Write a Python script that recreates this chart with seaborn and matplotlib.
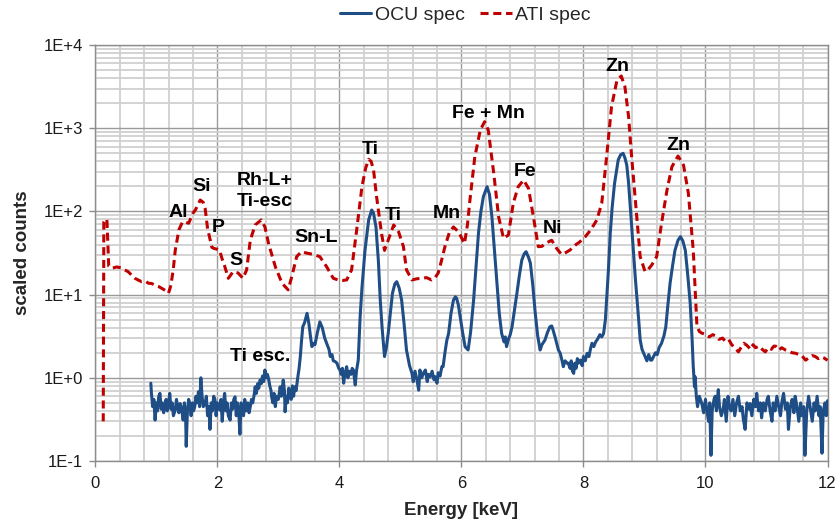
import numpy as np
import pandas as pd
import matplotlib
matplotlib.use("Agg")
import matplotlib.pyplot as plt
import matplotlib.ticker as mticker
import seaborn as sns

# ---------------- data ----------------
ati_energy = [0.13, 0.14, 0.16, 0.19, 0.22, 0.27, 0.35, 0.42, 0.50, 0.54, 0.60, 0.65, 0.70, 0.76,
              0.82, 0.87, 0.92, 0.98, 1.03, 1.09, 1.15, 1.20, 1.24, 1.28, 1.31, 1.37, 1.43, 1.48,
              1.53, 1.60, 1.64, 1.72, 1.77, 1.80, 1.84, 1.87, 1.91, 1.94, 2.00, 2.04, 2.07, 2.12,
              2.18, 2.26, 2.34, 2.42, 2.48, 2.54, 2.62, 2.72, 2.78, 2.84, 2.95, 3.06, 3.16, 3.22,
              3.30, 3.38, 3.46, 3.57, 3.68, 3.79, 3.90, 3.98, 4.05, 4.12, 4.20, 4.29, 4.37, 4.43,
              4.48, 4.52, 4.56, 4.61, 4.69, 4.74, 4.80, 4.89, 4.97, 5.05, 5.10, 5.19, 5.27, 5.35,
              5.43, 5.51, 5.57, 5.62, 5.67, 5.73, 5.80, 5.87, 5.95, 5.98, 6.05, 6.10, 6.14, 6.22,
              6.31, 6.38, 6.44, 6.53, 6.61, 6.69, 6.77, 6.85, 6.93, 7.02, 7.10, 7.18, 7.26, 7.32,
              7.37, 7.48, 7.56, 7.64, 7.71, 7.78, 7.87, 7.94, 8.03, 8.12, 8.22, 8.30, 8.38, 8.46,
              8.55, 8.62, 8.68, 8.74, 8.79, 8.85, 8.93, 9.01, 9.06, 9.12, 9.20, 9.28, 9.37, 9.45,
              9.55, 9.64, 9.72, 9.80, 9.86, 9.90, 9.94, 10.00, 10.06, 10.12, 10.16, 10.22, 10.28,
              10.32, 10.38, 10.43, 10.48, 10.54, 10.58, 10.63, 10.68, 10.74, 10.78, 10.82, 10.88,
              10.93, 10.98, 11.03, 11.08, 11.12, 11.15, 11.20, 11.25, 11.31, 11.36, 11.42, 11.48,
              11.53, 11.58, 11.64, 11.70, 11.75, 11.80, 11.85, 11.90, 11.95, 12.00]
ati_counts = [0.30, 75, 80, 80, 22, 20.7, 21.5, 21, 19.5, 18.8, 17, 15.7, 15, 14.3,
              14.5, 13.7, 13.6, 13.0, 12.6, 11.9, 11.2, 10.4, 13, 20.8, 34, 60, 75, 74,
              72, 95, 104, 137, 128, 109, 62, 50, 37, 36, 35, 34, 28, 22,
              15.7, 18.9, 18.2, 15.7, 19.8, 45, 68.7, 79, 65, 41, 21.7, 13.7, 11.4, 16.4,
              28.6, 32.8, 31.6, 30.4, 28.6, 21.7, 15.7, 15, 14.8, 15, 19.8, 65, 198, 330,
              423, 400, 315, 150, 55, 34, 45, 68.7, 57, 37.7, 19.8, 15, 15.5, 15.7,
              16, 15, 16, 18.2, 25, 37.7, 55, 65, 57, 52, 41, 70, 137, 454,
              950, 1197, 950, 287, 86, 47.5, 52, 125, 198, 238, 189, 86, 37.7, 38,
              41, 45, 36, 30.4, 32, 34.3, 39.5, 43, 49.7, 60, 79, 125, 454, 1810,
              3790, 4240, 3150, 1374, 454, 137, 28.6, 18.9, 20, 22.7, 28.6, 72, 181, 344,
              463, 361, 165, 34, 4.2, 3.6, 3.44, 3.35, 3.1, 3.3, 3.2, 2.9, 3.0,
              2.77, 2.9, 2.5, 2.3, 2.05, 2.3, 2.6, 2.45, 2.2, 2.5, 2.3, 2.4,
              2.2, 2.05, 2.3, 2.2, 2.4, 2.4, 2.15, 2.3, 2.16, 2.1, 2.0, 1.97,
              1.9, 1.85, 1.63, 1.75, 1.85, 1.8, 1.7, 1.78, 1.72, 1.62]

ocu_energy = [0.91, 0.92, 0.94, 0.96, 0.98, 1.00, 1.02, 1.04, 1.06, 1.08, 1.10, 1.12, 1.14, 1.16,
              1.18, 1.20, 1.22, 1.24, 1.26, 1.28, 1.31, 1.33, 1.35, 1.37, 1.39, 1.41, 1.44, 1.46,
              1.48, 1.49, 1.51, 1.53, 1.55, 1.57, 1.59, 1.61, 1.63, 1.65, 1.67, 1.69, 1.71, 1.73,
              1.75, 1.77, 1.80, 1.82, 1.84, 1.86, 1.88, 1.90, 1.92, 1.94, 1.96, 1.98, 2.00, 2.02,
              2.04, 2.06, 2.08, 2.10, 2.12, 2.14, 2.16, 2.18, 2.21, 2.23, 2.25, 2.27, 2.29, 2.31,
              2.33, 2.35, 2.37, 2.39, 2.41, 2.43, 2.45, 2.47, 2.50, 2.52, 2.54, 2.56, 2.58, 2.60,
              2.62, 2.64, 2.66, 2.68, 2.70, 2.72, 2.74, 2.76, 2.78, 2.80, 2.82, 2.84, 2.86, 2.88,
              2.89, 2.91, 2.93, 2.95, 2.97, 3.00, 3.03, 3.05, 3.08, 3.10, 3.11, 3.13, 3.15, 3.17,
              3.19, 3.21, 3.23, 3.25, 3.27, 3.29, 3.32, 3.34, 3.36, 3.38, 3.40, 3.43, 3.47, 3.50,
              3.53, 3.55, 3.58, 3.60, 3.64, 3.68, 3.72, 3.76, 3.80, 3.83, 3.85, 3.88, 3.90, 3.93,
              3.96, 3.99, 4.01, 4.03, 4.05, 4.07, 4.09, 4.12, 4.14, 4.16, 4.19, 4.21, 4.23, 4.26,
              4.28, 4.31, 4.34, 4.37, 4.42, 4.48, 4.53, 4.56, 4.60, 4.64, 4.67, 4.70, 4.74, 4.77,
              4.80, 4.87, 4.91, 4.94, 4.98, 5.02, 5.06, 5.10, 5.15, 5.19, 5.21, 5.24, 5.27, 5.30,
              5.32, 5.35, 5.38, 5.41, 5.44, 5.46, 5.49, 5.52, 5.55, 5.57, 5.60, 5.62, 5.65, 5.68,
              5.70, 5.73, 5.76, 5.79, 5.83, 5.87, 5.90, 5.92, 5.95, 5.98, 6.02, 6.06, 6.11, 6.15,
              6.20, 6.24, 6.28, 6.32, 6.36, 6.42, 6.46, 6.50, 6.54, 6.58, 6.62, 6.66, 6.70, 6.72,
              6.74, 6.77, 6.80, 6.83, 6.87, 6.91, 6.95, 6.99, 7.03, 7.06, 7.10, 7.13, 7.17, 7.21,
              7.25, 7.29, 7.32, 7.35, 7.37, 7.41, 7.45, 7.48, 7.50, 7.54, 7.59, 7.62, 7.65, 7.67,
              7.70, 7.73, 7.75, 7.78, 7.80, 7.82, 7.84, 7.86, 7.88, 7.90, 7.92, 7.95, 7.98, 8.00,
              8.03, 8.06, 8.09, 8.12, 8.14, 8.17, 8.20, 8.23, 8.27, 8.30, 8.33, 8.36, 8.38, 8.41,
              8.44, 8.47, 8.51, 8.57, 8.61, 8.65, 8.68, 8.71, 8.74, 8.76, 8.79, 8.82, 8.85, 8.88,
              8.91, 8.93, 8.96, 9.01, 9.04, 9.07, 9.10, 9.12, 9.15, 9.18, 9.21, 9.24, 9.28, 9.32,
              9.35, 9.38, 9.42, 9.46, 9.50, 9.55, 9.59, 9.63, 9.67, 9.71, 9.75, 9.78, 9.80, 9.82,
              9.83, 9.85, 9.87, 9.90, 9.94, 9.97, 10.00, 10.02, 10.05, 10.07, 10.09, 10.11, 10.14,
              10.16, 10.18, 10.21, 10.23, 10.26, 10.29, 10.31, 10.34, 10.37, 10.39, 10.42, 10.45,
              10.48, 10.51, 10.54, 10.57, 10.60, 10.62, 10.65, 10.68, 10.71, 10.73, 10.76, 10.79,
              10.82, 10.84, 10.87, 10.90, 10.92, 10.95, 10.98, 11.01, 11.03, 11.06, 11.09, 11.11,
              11.14, 11.17, 11.20, 11.23, 11.25, 11.28, 11.31, 11.34, 11.36, 11.39, 11.42, 11.45,
              11.47, 11.50, 11.53, 11.56, 11.58, 11.61, 11.63, 11.66, 11.69, 11.72, 11.75, 11.78,
              11.80, 11.83, 11.86, 11.88, 11.91, 11.93, 11.96, 11.98, 12.00]
ocu_counts = [0.86, 0.65, 0.45, 0.55, 0.31, 0.5, 0.4, 0.6, 0.65, 0.42, 0.5, 0.38, 0.45, 0.55,
              0.4, 0.5, 0.65, 0.42, 0.5, 0.35, 0.41, 0.55, 0.45, 0.38, 0.49, 0.44, 0.31, 0.5,
              0.35, 0.15, 0.4, 0.55, 0.49, 0.35, 0.5, 0.4, 0.45, 0.6, 0.5, 0.68, 0.45, 1.0,
              0.6, 0.45, 0.49, 0.6, 0.35, 0.45, 0.24, 0.5, 0.4, 0.6, 0.55, 0.35, 0.5, 0.45,
              0.41, 0.55, 0.3, 0.5, 0.65, 0.4, 0.5, 0.35, 0.31, 0.5, 0.42, 0.55, 0.59, 0.35,
              0.5, 0.4, 0.21, 0.5, 0.45, 0.35, 0.55, 0.4, 0.5, 0.38, 0.45, 0.55, 0.5, 0.6,
              0.78, 0.65, 0.85, 0.75, 0.94, 0.85, 1.05, 0.9, 1.24, 1.0, 1.1, 0.97, 0.8, 0.7,
              0.59, 0.5, 0.65, 0.45, 0.6, 0.55, 0.78, 0.6, 0.94, 0.7, 0.39, 0.6, 0.5, 0.75,
              0.65, 0.55, 0.8, 0.6, 0.78, 0.7, 1.03, 1.3, 1.8, 2.8, 4.1, 4.6, 5.96, 4.5,
              3.0, 2.37, 2.6, 2.5, 3.5, 4.7, 4.0, 3.0, 2.5, 2.2, 1.8, 1.9, 1.6, 1.57,
              1.5, 1.3, 1.24, 1.1, 1.3, 0.86, 1.1, 1.36, 1.0, 1.2, 1.1, 1.3, 1.24, 0.82,
              1.2, 1.64, 5.4, 12, 34, 79, 104, 95, 65, 25, 8.6, 4.0, 1.8, 2.3,
              3.4, 10.4, 13.5, 14.3, 12, 8.6, 4.5, 2.16, 1.4, 1.13, 0.9, 1.2, 0.95, 0.71,
              1.24, 1.0, 1.15, 1.24, 0.9, 1.1, 1.03, 1.2, 0.95, 1.03, 0.86, 1.15, 1.05, 1.36,
              1.36, 2.0, 2.8, 3.4, 6.0, 8.6, 9.4, 9.1, 7.5, 5.4, 3.5, 2.37, 2.16, 3.5,
              8.6, 22, 55, 100, 150, 198, 160, 86, 35, 13.7, 6.0, 3.4, 2.7, 3.1,
              2.37, 2.9, 3.3, 4.1, 6.5, 10.4, 17, 26, 31, 32.8, 28, 24, 13, 6.0,
              3.2, 2.16, 2.5, 2.7, 2.85, 3.5, 4.1, 4.2, 3.8, 3.0, 2.16, 1.97, 1.6, 1.36,
              1.6, 1.5, 1.5, 1.3, 1.6, 1.2, 1.13, 1.5, 1.3, 1.7, 1.5, 1.63, 1.4, 1.8,
              1.6, 1.97, 1.8, 2.3, 2.6, 2.37, 2.7, 2.9, 3.3, 3.1, 3.4, 5.0, 8.6, 20,
              55, 110, 217, 415, 480, 499, 440, 361, 220, 137, 65, 34, 16, 8.6,
              4.5, 2.85, 2.2, 1.8, 1.6, 1.9, 1.63, 1.63, 1.8, 2.0, 1.9, 2.3, 2.6, 3.2,
              4.1, 7.0, 13.7, 22, 34, 45, 49.7, 44, 34, 17, 7.9, 3.0, 1.36, 0.78,
              1.03, 0.6, 0.45, 0.6, 0.49, 0.38, 0.55, 0.42, 0.3, 0.5, 0.117, 0.4, 0.55,
              0.6, 0.4, 0.72, 0.45, 0.35, 0.42, 0.55, 0.3, 0.6, 0.45, 0.4, 0.55,
              0.35, 0.5, 0.6, 0.4, 0.45, 0.32, 0.24, 0.5, 0.42, 0.49, 0.35, 0.55,
              0.45, 0.65, 0.4, 0.5, 0.33, 0.5, 0.4, 0.55, 0.6, 0.4, 0.3, 0.5,
              0.4, 0.6, 0.45, 0.35, 0.5, 0.65, 0.42, 0.5, 0.24, 0.45, 0.55, 0.38,
              0.6, 0.45, 0.3, 0.5, 0.35, 0.45, 0.117, 0.4, 0.6, 0.42, 0.3, 0.5,
              0.4, 0.6, 0.35, 0.45, 0.124, 0.4, 0.5, 0.35, 0.53]

peak_labels = ["Al", "Si", "P", "S", "Rh-L+\nTi-esc", "Sn-L", "Ti", "Ti", "Mn",
               "Fe + Mn", "Fe", "Ni", "Zn", "Zn", "Ti esc."]
label_energy = [1.36, 1.74, 2.02, 2.30, 2.78, 3.62, 4.50, 4.89, 5.76,
                6.44, 7.04, 7.50, 8.55, 9.56, 2.70]
label_counts = [96, 198, 64, 26, 178, 49, 557, 90, 95,
                1510, 300, 63, 5480, 628, 1.79]

y_ticks = [0.1, 1, 10, 100, 1000, 10000]
x_ticks = [0, 2, 4, 6, 8, 10, 12]

# ---------------- plot ----------------
sns.set_theme(style="white")
plt.rcParams["font.family"] = ["Liberation Sans", "DejaVu Sans"]
plt.rcParams["lines.scale_dashes"] = False

fig = plt.figure(figsize=(8.37, 5.23), dpi=100)
ax = fig.add_axes([95.3 / 837, 1 - 461 / 523, (827.5 - 95.3) / 837, (461 - 45) / 523])

blue = "#1F4E86"
red = "#C00000"

ati_df = pd.DataFrame({"energy": ati_energy, "counts": ati_counts})
ocu_df = pd.DataFrame({"energy": ocu_energy, "counts": ocu_counts})

sns.lineplot(data=ati_df, x="energy", y="counts", ax=ax, color=red, lw=2.2,
             estimator=None, sort=False, label="ATI spec", zorder=3)
ati_line = ax.get_lines()[-1]
ati_line.set_dashes([5.8, 3.4])
sns.lineplot(data=ocu_df, x="energy", y="counts", ax=ax, color=blue, lw=2.2,
             estimator=None, sort=False, label="OCU spec", zorder=4)
ocu_line = ax.get_lines()[-1]

ax.set_yscale("log")
ax.set_ylim(0.1, 10000)
ax.set_xlim(0, 12)
ax.set_xticks(x_ticks)
ax.set_yticks(y_ticks)
ax.yaxis.set_major_formatter(mticker.FuncFormatter(lambda v, p: f"1E{int(round(np.log10(v))):+d}"))
ax.xaxis.set_minor_locator(mticker.MultipleLocator(0.4))
ax.yaxis.set_minor_locator(mticker.LogLocator(base=10, subs=np.arange(2, 10)))
ax.yaxis.set_minor_formatter(mticker.NullFormatter())

ax.grid(which="major", color="#9a9a9a", lw=1.0, zorder=0)
ax.grid(which="minor", color="#d0d0d0", lw=1.3, zorder=0)
ax.set_axisbelow(True)
for s in ax.spines.values():
    s.set_color("#8c8c8c")
    s.set_linewidth(1.0)

ax.tick_params(which="major", direction="out", length=4, width=1, color="#8c8c8c",
               labelsize=12, labelcolor="#1a1a1a", left=True, bottom=True)
ax.tick_params(axis="y", pad=5)
ax.tick_params(axis="x", pad=7)
ax.tick_params(which="minor", length=0)

ax.set_xlabel("Energy [keV]", fontsize=13.5, fontweight="bold", labelpad=8)
ax.set_ylabel("scaled counts", fontsize=13.5, fontweight="bold", labelpad=9)

for t, e, c in zip(peak_labels, label_energy, label_counts):
    ax.text(e, c, t, fontsize=14, fontweight="bold", ha="center", va="center",
            color="black", zorder=5, linespacing=1.3)

ax.get_legend().remove()
fig.legend([ocu_line, ati_line], ["OCU spec", "ATI spec"], loc="center",
           bbox_to_anchor=(465.5 / 837, 1 - 15 / 523), ncol=2, frameon=False,
           fontsize=14, handlelength=1.6, handletextpad=0.2, columnspacing=0.8)

fig.savefig("out.png", dpi=100)
